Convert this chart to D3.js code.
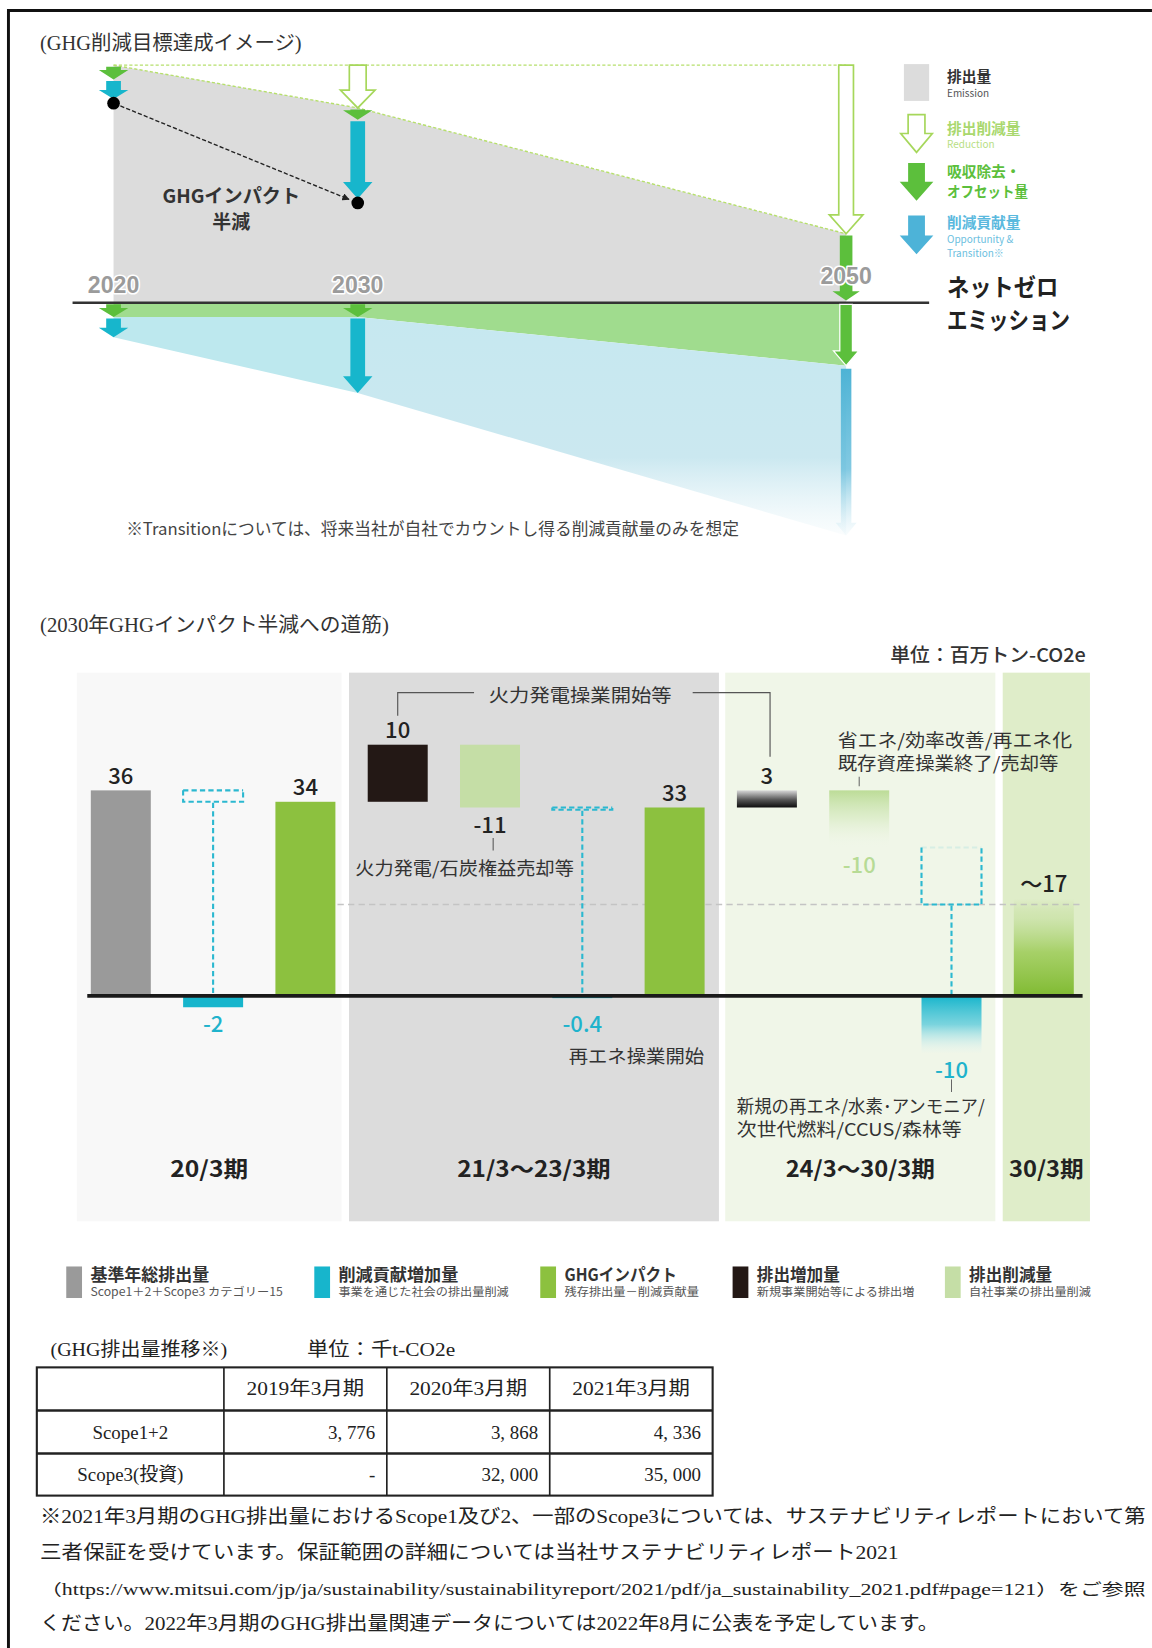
<!DOCTYPE html>
<html><head><meta charset="utf-8">
<script src="https://cdn.jsdelivr.net/npm/d3@7"></script>
<style>
html,body{margin:0;padding:0;background:#fff;}
svg{display:block;}
</style></head><body>
<svg id="chart" width="1152" height="1648" viewBox="0 0 1096 1568"></svg>
<script>
// ---------- Roadmap to net zero (index: FY2020 emission = 100) ----------
const roadmapYears = [2020, 2030, 2050];
const roadmapEmission = [100, 82, 29];            // remaining emission (grey area top)
const roadmapOffsetAbove = [6, 5, 29];            // absorption / offset arrows above the line
const roadmapImpact = [84, 42, 0];                // GHG impact dots
const roadmapOffsetBelow = [6, 6, 26.5];          // absorption / offset band under the line
const roadmapContributionBelow = [14.5, 38, 98];  // cumulative depth of contribution band

// ---------- Path to halving GHG impact by FY2030 (million t-CO2e) ----------
const stepKinds = ["base", "contribution", "impact", "increase", "reduction", "contribution",
                   "impact", "increase", "reduction", "contribution", "impact"];
const stepValues = [36, -2, 34, 10, -11, -0.4, 33, 3, -10, -10, 17];
const stepLabels = ["36", "-2", "34", "10", "-11", "-0.4", "33", "3", "-10", "-10", "～17"];
const stepProjected = [false, false, false, false, false, false, false, true, true, true, true];
const periodLabels = ["20/3期", "21/3～23/3期", "24/3～30/3期", "30/3期"];

const legendNames = ["基準年総排出量", "削減貢献増加量", "GHGインパクト", "排出増加量", "排出削減量"];
const legendNotes = ["Scope1＋2＋Scope3 カテゴリー15", "事業を通じた社会の排出量削減", "残存排出量－削減貢献量",
                     "新規事業開始等による排出増", "自社事業の排出量削減"];
const legendKinds = ["base", "contribution", "impact", "increase", "reduction"];

// ---------- GHG emission history (thousand t-CO2e) ----------
const tableYears = ["2019年3月期", "2020年3月期", "2021年3月期"];
const tableRows = ["Scope1+2", "Scope3(投資)"];
const scope12 = [3776, 3868, 4336];
const scope3 = [null, 32000, 35000];

const footnoteLines = [
  "※2021年3月期のGHG排出量におけるScope1及び2、一部のScope3については、サステナビリティレポートにおいて第",
  "三者保証を受けています。保証範囲の詳細については当社サステナビリティレポート2021",
  "（https://www.mitsui.com/jp/ja/sustainability/sustainabilityreport/2021/pdf/ja_sustainability_2021.pdf#page=121）をご参照",
  "ください。2022年3月期のGHG排出量関連データについては2022年8月に公表を予定しています。"
];

// ---------- drawing ----------
const SANS = "'Noto Sans CJK JP','Noto Sans',sans-serif";
const SERIF = "'Liberation Serif','Noto Sans CJK JP',serif";
const kindColor = {base: "#9a9a9a", contribution: "#17b5cc", impact: "#8cc13f", increase: "#231815", reduction: "#c5dea6"};

const svg = d3.select("#chart");
const defs = svg.append("defs");

function linGrad(id, stops, user) {
  const g = defs.append("linearGradient").attr("id", id)
    .attr("x1", 0).attr("x2", 0).attr("y1", user ? user[0] : 0).attr("y2", user ? user[1] : 1);
  if (user) g.attr("gradientUnits", "userSpaceOnUse");
  stops.forEach(s => g.append("stop").attr("offset", s[0]).attr("stop-color", s[1]).attr("stop-opacity", s[2] ?? 1));
}
linGrad("gTransition", [[0, "#c6e8f0"], [0.62, "#cbe8f0"], [1, "#e2f2f7", 0.05]], [300, 518]);
linGrad("gBlueArrow", [[0, "#4db3d5"], [0.6, "#6cc0dd", 0.85], [1, "#bfe3ef", 0.1]]);
linGrad("gIncrease", [[0, "#d8d8d8"], [0.55, "#555"], [1, "#0d0d0d"]]);
linGrad("gReduction", [[0, "#bcdc97"], [0.5, "#d4e9bd", 0.6], [1, "#eef6e6", 0.0]]);
linGrad("gContribution", [[0, "#17b5cc"], [0.5, "#5ccbdb", 0.8], [1, "#d6f1f5", 0.05]]);
linGrad("gImpact", [[0, "#8cc13f", 0], [0.2, "#a8d16f", 0.3], [0.55, "#98c94f", 0.8], [1, "#80ba32"]]);

function txt(parent, x, y, s, o = {}) {
  const t = parent.append("text").attr("x", x).attr("y", y)
    .attr("dominant-baseline", "central")
    .attr("font-family", o.family || SANS)
    .attr("font-size", o.size || 16)
    .attr("font-weight", o.weight || 400)
    .attr("fill", o.fill || "#222")
    .attr("text-anchor", o.anchor || "start")
    .text(s);
  if (o.len) t.attr("textLength", o.len).attr("lengthAdjust", "spacingAndGlyphs");
  if (o.halo) t.attr("stroke", "#fff").attr("stroke-width", o.halo).attr("paint-order", "stroke").attr("stroke-linejoin", "round");
  return t;
}

// downward arrow: shaft from yStart, tip at yTip
function arrowPath(x, yStart, yTip, bw, hw, hh) {
  hh = Math.min(hh, yTip - yStart);
  const yb = yTip - hh;
  return `M${x - bw / 2},${yStart}L${x + bw / 2},${yStart}L${x + bw / 2},${yb}L${x + hw / 2},${yb}` +
         `L${x},${yTip}L${x - hw / 2},${yb}L${x - bw / 2},${yb}Z`;
}

// frame
svg.append("path").attr("d", "M8,1568V10H1096").attr("fill", "none").attr("stroke", "#111").attr("stroke-width", 2.8);

// ===== roadmap diagram =====
const road = svg.append("g");
txt(road, 38, 41, "(GHG削減目標達成イメージ)", {family: SERIF, size: 19, fill: "#333", len: 249});

const xTop = d3.scaleLinear().domain([2020, 2050]).range([108, 805]);
const yTop = d3.scaleLinear().domain([0, 100]).range([288, 62]);
const roadmap = roadmapYears.map((year, i) => ({
  year, emission: roadmapEmission[i], offsetAbove: roadmapOffsetAbove[i], impact: roadmapImpact[i],
  offsetBelow: roadmapOffsetBelow[i], contribBelow: roadmapContributionBelow[i]
}));

road.append("path").datum(roadmap)
  .attr("d", d3.area().x(d => xTop(d.year)).y0(yTop(0)).y1(d => yTop(d.emission)))
  .attr("fill", "#dcdcdc");
road.append("path").datum(roadmap)
  .attr("d", d3.area().x(d => xTop(d.year)).y0(yTop(0)).y1(d => yTop(-d.offsetBelow)))
  .attr("fill", "#a0dc8e");
road.append("path").datum(roadmap.slice(0, 2))
  .attr("d", d3.area().x(d => xTop(d.year)).y0(d => yTop(-d.offsetBelow)).y1(d => yTop(-d.contribBelow)))
  .attr("fill", "#bde8ee");
road.append("path").datum(roadmap.slice(1))
  .attr("d", d3.area().x(d => xTop(d.year)).y0(d => yTop(-d.offsetBelow)).y1(d => yTop(-d.contribBelow)))
  .attr("fill", "url(#gTransition)");

// reduction guide lines
road.append("line").attr("x1", xTop(2020)).attr("x2", xTop(2050)).attr("y1", yTop(100)).attr("y2", yTop(100))
  .attr("stroke", "#b6df6c").attr("stroke-width", 1.3).attr("stroke-dasharray", "3,2");
road.append("path").datum(roadmap)
  .attr("d", d3.line().x(d => xTop(d.year)).y(d => yTop(d.emission)))
  .attr("fill", "none").attr("stroke", "#b6df6c").attr("stroke-width", 1.3).attr("stroke-dasharray", "3,2");

// zero line
road.append("line").attr("x1", 69).attr("x2", 884).attr("y1", yTop(0)).attr("y2", yTop(0))
  .attr("stroke", "#333").attr("stroke-width", 2.4);

roadmap.forEach(d => {
  const cx = xTop(d.year);
  const last = d.year === 2050;
  // reduction (hollow)
  if (d.emission < 100) {
    road.append("path")
      .attr("d", arrowPath(cx, yTop(100), yTop(d.emission), last ? 14 : 16, last ? 32 : 33, last ? 18 : 17))
      .attr("fill", "#fff").attr("stroke", "#a6d75b").attr("stroke-width", 1.6).attr("stroke-linejoin", "miter");
  }
  // offset above zero line
  const offEnd = d.emission - d.offsetAbove;
  road.append("path")
    .attr("d", arrowPath(cx, yTop(d.emission) + 1.5, yTop(offEnd) - (last ? 2 : 0), last ? 12 : 14, last ? 26 : 28, 9))
    .attr("fill", "#5cbf3c");
  // contribution above zero line
  if (d.impact > 0) {
    const y0 = yTop(offEnd) + 1.5, y1 = yTop(d.impact) - 4;
    road.append("path").attr("d", arrowPath(cx, y0, y1, 14, 28, Math.min(16, (y1 - y0) * 0.5)))
      .attr("fill", "#17b6cc");
    road.append("circle").attr("cx", cx).attr("cy", yTop(d.impact)).attr("r", 6).attr("fill", "#000");
  }
  // offset below zero line
  const g0 = yTop(0) + 1.5, g1 = yTop(-d.offsetBelow);
  road.append("path").attr("d", arrowPath(cx, g0, g1, last ? 12 : 14, last ? 24 : 28, Math.min(14, (g1 - g0) * 0.7)))
    .attr("fill", "#5cbf3c").attr("stroke", last ? "#fff" : "none").attr("stroke-width", 1.2);
  // contribution below zero line
  const c0 = yTop(-d.offsetBelow) + (last ? 3 : 1.5), c1 = yTop(-d.contribBelow);
  road.append("path").attr("d", arrowPath(cx, c0, c1, last ? 10 : 14, last ? 20 : 28, last ? 12 : Math.min(16, (c1 - c0) * 0.5)))
    .attr("fill", last ? "url(#gBlueArrow)" : "#17b6cc");
});

// halving link between impact dots
defs.append("marker").attr("id", "mk").attr("viewBox", "0 0 10 10").attr("refX", 9).attr("refY", 5)
  .attr("markerWidth", 7).attr("markerHeight", 7).attr("orient", "auto").attr("markerUnits", "userSpaceOnUse")
  .append("path").attr("d", "M0,0L10,5L0,10Z").attr("fill", "#222");
{
  const p1 = [xTop(2020), yTop(roadmapImpact[0])], p2 = [xTop(2030), yTop(roadmapImpact[1])];
  const dx = p2[0] - p1[0], dy = p2[1] - p1[1], L = Math.hypot(dx, dy), ux = dx / L, uy = dy / L;
  road.append("line").attr("x1", p1[0] + ux * 7).attr("y1", p1[1] + uy * 7)
    .attr("x2", p2[0] - ux * 9).attr("y2", p2[1] - uy * 9)
    .attr("stroke", "#222").attr("stroke-width", 1.3).attr("stroke-dasharray", "4,2").attr("marker-end", "url(#mk)");
}
txt(road, 220, 185, "GHGインパクト", {size: 18, weight: 700, fill: "#333", anchor: "middle", len: 131});
txt(road, 220, 210, "半減", {size: 18, weight: 700, fill: "#333", anchor: "middle"});

roadmap.forEach(d => {
  txt(road, xTop(d.year), yTop(0) - (d.year === 2050 ? 25 : 17), String(d.year),
      {family: "'Liberation Sans',Arial,sans-serif", size: 22, weight: 700, fill: "#9b9b9b", anchor: "middle", halo: 3});
});

txt(road, 120, 502, "※Transitionについては、将来当社が自社でカウントし得る削減貢献量のみを想定", {size: 16, fill: "#444", len: 583});

// roadmap legend
road.append("rect").attr("x", 860).attr("y", 61).attr("width", 24).attr("height", 35).attr("fill", "#dcdcdc");
road.append("path").attr("d", arrowPath(872, 109, 145, 16, 30, 18)).attr("fill", "#fff").attr("stroke", "#a6d75b").attr("stroke-width", 1.6);
road.append("path").attr("d", arrowPath(872, 155, 191, 16, 32, 18)).attr("fill", "#5cbf3c");
road.append("path").attr("d", arrowPath(872, 205, 242, 16, 32, 18)).attr("fill", "#4db3d8");
txt(road, 901, 72, "排出量", {size: 14, weight: 700, fill: "#333"});
txt(road, 901, 88, "Emission", {size: 9.5, fill: "#555"});
txt(road, 901, 121, "排出削減量", {size: 14, weight: 700, fill: "#a9d86e"});
txt(road, 901, 137, "Reduction", {size: 9.5, fill: "#b7de84"});
txt(road, 901, 162, "吸収除去・", {size: 14, weight: 700, fill: "#5cbf3c"});
txt(road, 901, 181, "オフセット量", {size: 14, weight: 700, fill: "#5cbf3c", len: 77});
txt(road, 901, 211, "削減貢献量", {size: 14, weight: 700, fill: "#5ab9de"});
txt(road, 901, 227, "Opportunity &", {size: 9.5, fill: "#6cc0e0"});
txt(road, 901, 240, "Transition※", {size: 9.5, fill: "#6cc0e0"});
txt(road, 901, 272, "ネットゼロ", {size: 23, weight: 700, fill: "#222", len: 106});
txt(road, 901, 303, "エミッション", {size: 23, weight: 700, fill: "#222", len: 117});

// ===== waterfall =====
const wf = svg.append("g");
txt(wf, 38, 595, "(2030年GHGインパクト半減への道筋)", {family: SERIF, size: 19, fill: "#333", len: 332});
txt(wf, 1033, 622, "単位：百万トン-CO2e", {size: 18, weight: 500, fill: "#333", anchor: "end", len: 186});

const x = d3.scaleBand().domain(d3.range(stepValues.length)).range([71, 1037]).paddingInner(0.35).paddingOuter(0.175);
const y = d3.scaleLinear().domain([0, 36]).range([947.5, 752]);
const bw = x.bandwidth();

// running level of the waterfall
let level = 0;
const steps = stepValues.map((v, i) => {
  const kind = stepKinds[i];
  let lo, hi, ghost = null;
  if (kind === "base" || kind === "impact") { lo = 0; hi = v; level = v; }
  else if (kind === "contribution") { ghost = [level + v, level]; lo = v; hi = 0; level += v; }
  else { lo = Math.min(level, level + v); hi = Math.max(level, level + v); level += v; }
  return {i, kind, v, lo, hi, ghost, label: stepLabels[i], projected: stepProjected[i], after: level};
});

// period panels
const panelColors = ["#f8f8f8", "#dcdcdc", "#f0f6e8", "#dfedc9"];
const panelEdges = [[73, 325], [332, 684], [690, 947], [954, 1037]];
const panelLabelLen = [74, 146, 142, 71];
periodLabels.forEach((p, k) => {
  const [x0, x1] = panelEdges[k];
  wf.append("rect").attr("x", x0).attr("y", 640).attr("width", x1 - x0).attr("height", 522).attr("fill", panelColors[k]);
  txt(wf, (x0 + x1) / 2, 1110, p, {size: 21, weight: 700, fill: "#222", anchor: "middle", len: panelLabelLen[k]});
});

// guide at the level reached after the last contribution
const guideLevel = steps[9].after;
wf.append("line").attr("x1", x(2) + bw + 2).attr("x2", 1030).attr("y1", y(guideLevel)).attr("y2", y(guideLevel))
  .attr("stroke", "#c4c4c4").attr("stroke-width", 1.5).attr("stroke-dasharray", "6,4");

// bars
steps.forEach(s => {
  let fill = kindColor[s.kind];
  if (s.projected) fill = `url(#g${s.kind[0].toUpperCase() + s.kind.slice(1)})`;
  wf.append("rect").attr("x", x(s.i)).attr("width", bw)
    .attr("y", y(s.hi)).attr("height", Math.max(0.5, y(s.lo) - y(s.hi)))
    .attr("fill", fill);
});

// dashed outlines for contribution steps
const dashStyle = sel => sel.attr("fill", "none").attr("stroke", "#2bb8d0").attr("stroke-width", 2).attr("stroke-dasharray", "5,3");
steps.filter(s => s.ghost).forEach(s => {
  const gx0 = x(s.i), gx1 = x(s.i) + bw, gt = y(s.ghost[1]), gb = y(s.ghost[0]), cx = gx0 + bw / 2;
  dashStyle(wf.append("path").attr("d", `M${gx0},${gt}V${gb}H${gx1}V${gt}`));
  dashStyle(wf.append("path").attr("d", `M${gx0},${gt}H${gx1}`)).attr("opacity", s.projected ? 0.12 : 1);
  dashStyle(wf.append("line").attr("x1", cx).attr("x2", cx).attr("y1", gb + 1).attr("y2", y(0)));
});

// zero line
wf.append("line").attr("x1", 83).attr("x2", 1030).attr("y1", y(0)).attr("y2", y(0))
  .attr("stroke", "#1a1a1a").attr("stroke-width", 3.5);

// value labels
steps.forEach(s => {
  const cx = x(s.i) + bw / 2;
  let ly, fill = "#222";
  if (s.kind === "contribution") { ly = Math.max(y(s.v), y(0) + 11) + 14; fill = "#1fb3cc"; }
  else if (s.kind === "reduction") { ly = y(s.lo) + 15; if (s.projected) fill = "#b7db95"; }
  else ly = y(s.hi) - 16;
  txt(wf, cx, ly, s.label, {size: 21, weight: 500, fill, anchor: "middle"});
});

// annotations
const cxs = i => x(i) + bw / 2;
const note = {size: 17, fill: "#333"};
wf.append("path").attr("d", `M${cxs(3)},681V659H451M659,659H${cxs(7) + 3}V720`)
  .attr("fill", "none").attr("stroke", "#555").attr("stroke-width", 1.1);
txt(wf, 552, 660, "火力発電操業開始等", {...note, anchor: "middle", len: 174});
wf.append("line").attr("x1", cxs(4) + 3).attr("x2", cxs(4) + 3).attr("y1", y(steps[4].lo) + 29).attr("y2", y(steps[4].lo) + 41)
  .attr("stroke", "#555").attr("stroke-width", 1);
txt(wf, 338, 825, "火力発電/石炭権益売却等", {...note, len: 208});
txt(wf, 541, 1004, "再エネ操業開始", {...note, len: 129});
wf.append("line").attr("x1", cxs(8)).attr("x2", cxs(8)).attr("y1", 739).attr("y2", 748).attr("stroke", "#666").attr("stroke-width", 1);
txt(wf, 797, 703, "省エネ/効率改善/再エネ化", {...note, len: 223});
txt(wf, 797, 725, "既存資産操業終了/売却等", {...note, len: 210});
wf.append("line").attr("x1", cxs(9)).attr("x2", cxs(9)).attr("y1", 1027).attr("y2", 1039).attr("stroke", "#666").attr("stroke-width", 1);
txt(wf, 701, 1051, "新規の再エネ/水素･アンモニア/", {...note, len: 236});
txt(wf, 701, 1073, "次世代燃料/CCUS/森林等", {...note, len: 214});

// legend
const legendX = [63, 299, 514, 697, 899];
const legendNameLen = [113, 114, 107, 79, 79];
const legendNoteLen = [183, 162, 128, 150, 116];
legendNames.forEach((n, k) => {
  wf.append("rect").attr("x", legendX[k]).attr("y", 1205).attr("width", 15).attr("height", 30).attr("fill", kindColor[legendKinds[k]]);
  txt(wf, legendX[k] + 23, 1212, n, {size: 16, weight: 700, fill: "#333", len: legendNameLen[k]});
  txt(wf, legendX[k] + 23, 1228, legendNotes[k], {size: 11, fill: "#555", len: legendNoteLen[k]});
});

// ===== emission table =====
const tb = svg.append("g");
const tt = {family: SERIF, size: 18, fill: "#222"};
txt(tb, 48, 1284, "(GHG排出量推移※)", {...tt, len: 168});
txt(tb, 292, 1284, "単位：千t-CO2e", {...tt, len: 141});
const colX = [35, 213, 368, 523, 678];
const rowY = [1301, 1342, 1383, 1423];
tb.append("rect").attr("x", colX[0]).attr("y", rowY[0]).attr("width", colX[4] - colX[0]).attr("height", rowY[3] - rowY[0])
  .attr("fill", "none").attr("stroke", "#222").attr("stroke-width", 2);
colX.slice(1, 4).forEach(cx => tb.append("line").attr("x1", cx).attr("x2", cx).attr("y1", rowY[0]).attr("y2", rowY[3]).attr("stroke", "#222").attr("stroke-width", 1.6));
rowY.slice(1, 3).forEach(ry => tb.append("line").attr("x1", colX[0]).attr("x2", colX[4]).attr("y1", ry).attr("y2", ry).attr("stroke", "#222").attr("stroke-width", 2.4));
const fmt = v => v == null ? "-" : d3.format(",")(v).replace(/,/g, ", ");
tableYears.forEach((t, j) => txt(tb, (colX[j + 1] + colX[j + 2]) / 2, (rowY[0] + rowY[1]) / 2, t, {...tt, anchor: "middle", len: 112}));
[scope12, scope3].forEach((row, r) => {
  const cy = (rowY[r + 1] + rowY[r + 2]) / 2;
  txt(tb, (colX[0] + colX[1]) / 2, cy, tableRows[r], {...tt, anchor: "middle"});
  row.forEach((v, j) => txt(tb, colX[j + 2] - 11, cy, fmt(v), {...tt, anchor: "end"}));
});

// footnote
const fnY = [1443, 1477, 1512, 1545];
const fnLen = [1052, 817, 1052, 855];
footnoteLines.forEach((l, k) => txt(tb, 38, fnY[k], l, {family: SERIF, size: k === 2 ? 15 : 18.5, fill: "#222", len: fnLen[k]}));
</script>
</body></html>
